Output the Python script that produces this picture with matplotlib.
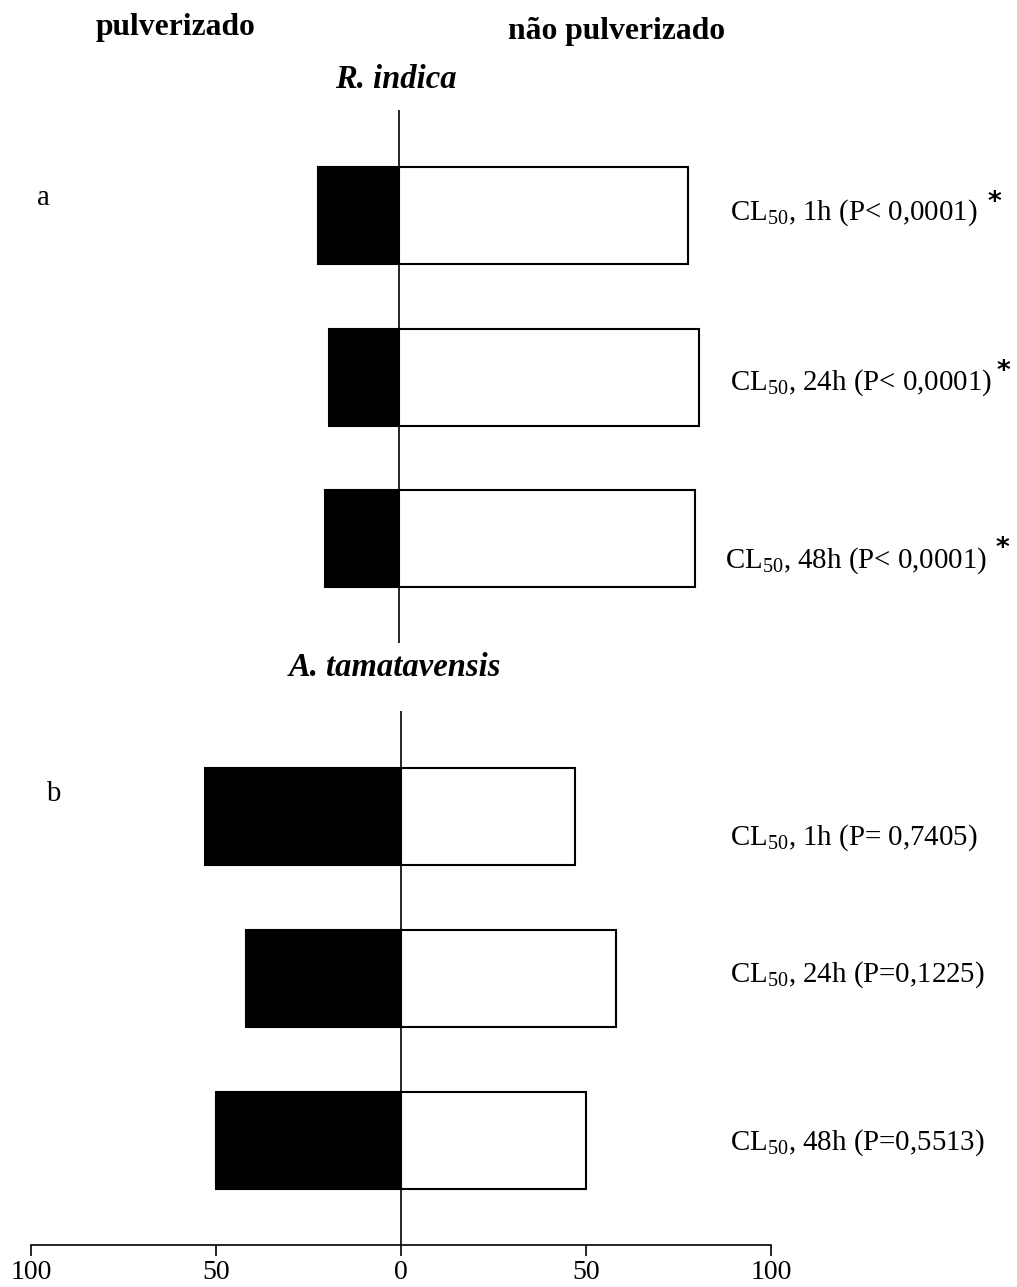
import numpy as np
import matplotlib.pyplot as plt

plt.rcParams['font.family'] = ['Liberation Serif', 'DejaVu Serif']
plt.rcParams['mathtext.fontset'] = 'custom'
plt.rcParams['mathtext.rm'] = 'Liberation Serif'
plt.rcParams['mathtext.it'] = 'Liberation Serif:italic'

# percent of insects choosing each side
periodos = ['1h', '24h', '48h']
ri_pulv = [22, 19, 20]
ri_nao = [78, 81, 80]
at_pulv = [53, 42, 50]
at_nao = [47, 58, 50]
ri_p = ['(P< 0,0001)', '(P< 0,0001)', '(P< 0,0001)']
at_p = ['(P= 0,7405)', '(P=0,1225)', '(P=0,5513)']
ticks = [-100, -50, 0, 50, 100]
tick_labels = ['100', '50', '0', '50', '100']

fig = plt.figure(figsize=(10.17, 12.87), dpi=100)
ax1 = fig.add_axes([0.0285, 0.5004, 0.7276, 0.4141])
ax2 = fig.add_axes([0.0305, 0.0326, 0.7276, 0.415])

y = np.arange(3)
fs = 20.8
fs_tit = 23.5

def painel(ax, pulv, nao):
    ax.barh(y, [-v for v in pulv], height=0.6, color='black', edgecolor='black', lw=1.5, zorder=2)
    ax.barh(y, nao, height=0.6, color='white', edgecolor='black', lw=1.5, zorder=2)
    ax.axvline(0, color='black', lw=1.2, zorder=1)
    ax.set_xlim(-100, 100)
    ax.set_ylim(2.645, -0.655)
    ax.set_yticks([])
    for s in ['top', 'right', 'left']:
        ax.spines[s].set_visible(False)

painel(ax1, ri_pulv, ri_nao)
ax1.spines['bottom'].set_visible(False)
ax1.set_xticks([])

painel(ax2, at_pulv, at_nao)
ax2.set_ylim(2.647, -0.653)
ax2.spines['bottom'].set_linewidth(1.2)
ax2.set_xticks(ticks)
ax2.set_xticklabels(tick_labels, fontsize=20)
ax2.tick_params(axis='x', direction='out', length=8, width=1.2, pad=3)

# labels on the right
ri_dy = [-0.02, 0.034, 0.133]
ri_x = [89.5, 89.5, 88]
ast_x = [161, 163.5, 163]
ast_dy = [-0.08, -0.03, 0.06]
at_dy = [0.133, -0.022, 0.015]
for i, p in enumerate(periodos):
    ax1.text(ri_x[i], i + ri_dy[i], 'CL$_{50}$, ' + p + ' ' + ri_p[i], fontsize=fs,
             va='center', ha='left', clip_on=False)
    ax1.text(ast_x[i], i + ast_dy[i], '*', fontsize=19, fontweight='bold',
             family='DejaVu Sans', va='center', ha='center', clip_on=False)
    ax2.text(89, i + at_dy[i], 'CL$_{50}$, ' + p + ' ' + at_p[i], fontsize=fs,
             va='center', ha='left', clip_on=False)

ax1.text(-96, -0.11, 'a', fontsize=fs, va='center', ha='center', clip_on=False)
ax2.text(-94, -0.14, 'b', fontsize=fs, va='center', ha='center', clip_on=False)

fig.text(176 / 1017, 1 - 27 / 1287, 'pulverizado', fontsize=22.8, fontweight='bold',
         ha='center', va='center')
fig.text(617 / 1017, 1 - 31 / 1287, 'não pulverizado', fontsize=22.8, fontweight='bold',
         ha='center', va='center')
fig.text(396 / 1017, 1 - 80 / 1287, 'R. indica', fontsize=fs_tit, fontweight='bold',
         style='italic', ha='center', va='center')
fig.text(395 / 1017, 1 - 668 / 1287, 'A. tamatavensis', fontsize=fs_tit, fontweight='bold',
         style='italic', ha='center', va='center')

fig.savefig('out.png', dpi=100, facecolor='white')
